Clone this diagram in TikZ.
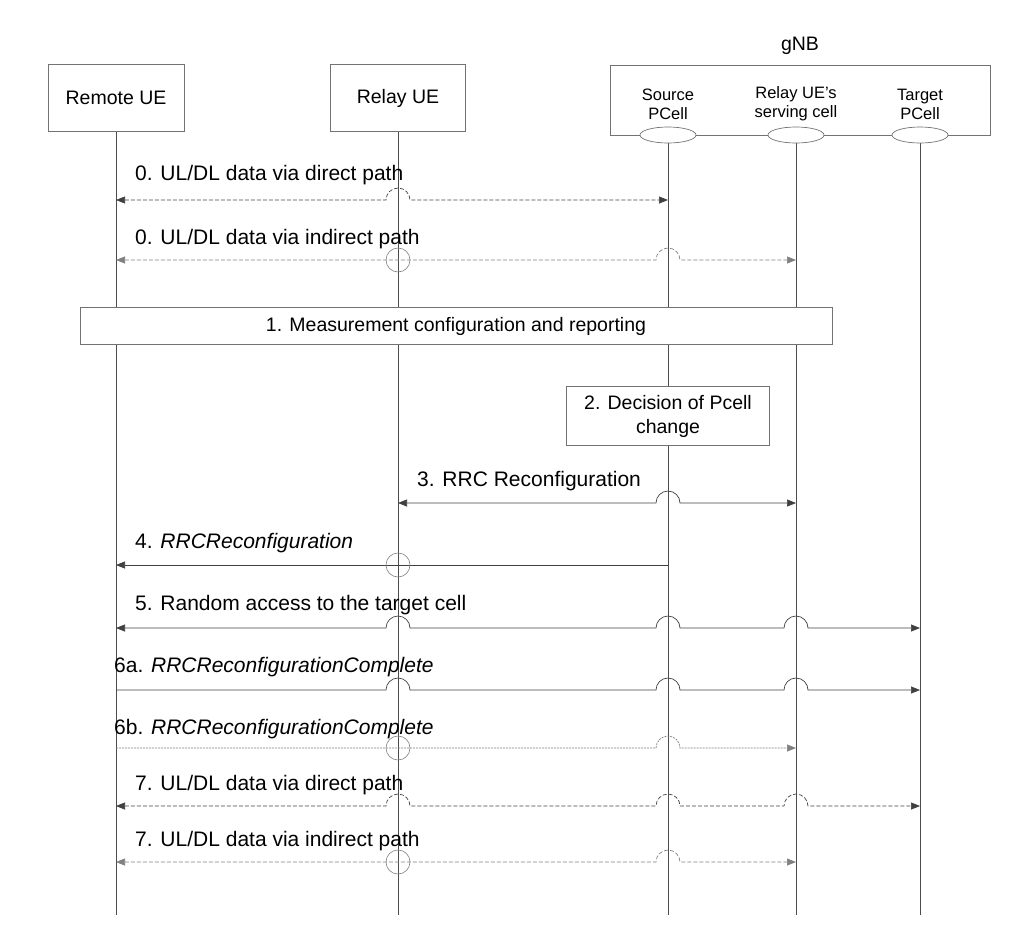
\documentclass[tikz,border=0pt]{standalone}
\usepackage{fontspec}
\setmainfont{Liberation Sans}
\usetikzlibrary{arrows.meta}
\newcommand{\hp}[2]{-- (#1-12,#2) arc[start angle=180,end angle=360,radius=12]}
\begin{document}
\begin{tikzpicture}[x=1pt,y=-1pt,
  box/.style={draw=black!55,line width=0.8pt,fill=white,inner sep=0pt},
  life/.style={draw=black!70,line width=0.8pt},
  msg/.style={line width=0.7pt,draw=black!75,>={Triangle[length=9pt,width=7pt]}},
  dir/.style={msg,dash pattern=on 4pt off 2pt},
  ind/.style={msg,draw=black!50,dash pattern=on 4pt off 2pt},
  dot/.style={msg,draw=black!50,dash pattern=on 2pt off 1pt},
  lbl/.style={font=\fontsize{21}{24}\selectfont,anchor=base west,inner sep=0pt},
  bt/.style={font=\fontsize{19.5}{23}\selectfont},
  small/.style={font=\fontsize{16.5}{19}\selectfont,align=center}]
\useasboundingbox (0,0) rectangle (1036,935);
% lifelines
\foreach \n/\x/\t in {re/116/132,ru/398/132,sp/668/143,rs/796/143,tp/920/143}{
  \coordinate (\n top) at (\x,\t); \coordinate (\n bot) at (\x,915);
  \draw[life] (\n top) -- (\n bot);}
\node[box,bt,minimum width=136pt,minimum height=67pt] (remote) at (116,98) {Remote UE};
\node[box,bt,minimum width=135pt,minimum height=67pt] (relay) at (398,98) {Relay UE};
\node[box,minimum width=380pt,minimum height=70pt] (gnb) at (800,100) {};
\node[bt] (gnbl) at (800,46) {gNB};
\node[small] (spl) at (668,104) {Source\\PCell};
\node[small] (rsl) at (796,104) {Relay UE’s\\serving cell};
\node[small] (tpl) at (920,104) {Target\\PCell};
\foreach \x/\n in {668/e1,796/e2,920/e3}
  \draw[draw=black!55,fill=white,line width=0.7pt] (\x,135) ellipse[x radius=28,y radius=8];
% 0 direct
\node[lbl] (t0a) at (135,180) {0. UL/DL data via direct path};
\draw[dir,<->] (116,200) \hp{398}{200} -- (668,200);
% 0 indirect
\node[lbl] (t0b) at (135,244) {0. UL/DL data via indirect path};
\draw[ind,<->] (116,260) \hp{668}{260} -- (796,260);
\draw[draw=black!50,line width=0.6pt] (398,260) circle[radius=12];
% 1
\node[box,bt,minimum width=752pt,minimum height=37pt] (b1) at (456,326) {1. Measurement configuration and reporting};
% 2
\node[box,minimum width=203pt,minimum height=59pt,align=center,font=\fontsize{19.5}{24}\selectfont] (b2) at (668,416) {2. Decision of Pcell\\change};
% 3
\node[lbl] (t3) at (417,486) {3. RRC Reconfiguration};
\draw[msg,<->] (398,503) \hp{668}{503} -- (796,503);
% 4
\node[lbl] (t4) at (135,548) {4. \textit{RRCReconfiguration}};
\draw[msg,->] (668,565) -- (116,565);
\draw[draw=black!50,line width=0.6pt] (398,565) circle[radius=12];
% 5
\node[lbl] (t5) at (135,610) {5. Random access to the target cell};
\draw[msg,<->] (116,628) \hp{398}{628} \hp{668}{628} \hp{796}{628} -- (920,628);
% 6a
\node[lbl] (t6a) at (114,672) {6a. \textit{RRCReconfigurationComplete}};
\draw[msg,->] (116,690) \hp{398}{690} \hp{668}{690} \hp{796}{690} -- (920,690);
% 6b
\node[lbl] (t6b) at (114,734) {6b. \textit{RRCReconfigurationComplete}};
\draw[dot,->] (116,748) \hp{668}{748} -- (796,748);
\draw[draw=black!50,line width=0.6pt] (398,748) circle[radius=12];
% 7 direct
\node[lbl] (t7a) at (135,790) {7. UL/DL data via direct path};
\draw[dir,<->] (116,806) \hp{398}{806} \hp{668}{806} \hp{796}{806} -- (920,806);
% 7 indirect
\node[lbl] (t7b) at (135,846) {7. UL/DL data via indirect path};
\draw[ind,<->] (116,862) \hp{668}{862} -- (796,862);
\draw[draw=black!50,line width=0.6pt] (398,862) circle[radius=12];
\end{tikzpicture}
\end{document}
